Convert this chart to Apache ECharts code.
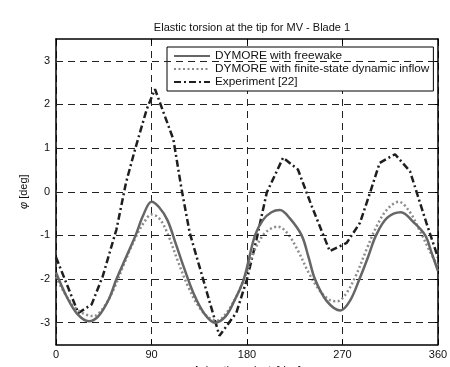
<!DOCTYPE html>
<html>
<head>
<meta charset="utf-8">
<script src="https://cdn.jsdelivr.net/npm/echarts@6/dist/echarts.min.js"></script>
<style>html,body{margin:0;padding:0;background:#fff}#c{width:450px;height:367px}</style>
</head>
<body>
<div id="c"></div>
<script>
const titleText = 'Elastic torsion at the tip for MV - Blade 1';
const xTicks = [0, 90, 180, 270, 360];
const yTicks = [-3, -2, -1, 0, 1, 2, 3];
const seriesNames = ['DYMORE with freewake', 'DYMORE with finite-state dynamic inflow', 'Experiment [22]'];

const freewakeAz = [0,10,20,31,40,50,57,66,75,82,90,97,105,113,120,130,140,150,160,168,177,187.5,195,203,211,220,231.5,238,244,255,268,277,286,294,301.6,312,325,337,348,354,360];
const freewakeVal = [-1.85,-2.4,-2.8,-2.97,-2.85,-2.45,-2.0,-1.5,-1.0,-0.55,-0.23,-0.35,-0.65,-1.2,-1.7,-2.35,-2.8,-3.0,-2.85,-2.5,-2.0,-1.0,-0.65,-0.47,-0.42,-0.6,-1.0,-1.5,-2.0,-2.5,-2.72,-2.5,-2.0,-1.5,-1.0,-0.6,-0.47,-0.7,-1.0,-1.4,-1.82];

const finiteAz = [0,10,20,30,35,45,55,65,75,83,90,97,105,115,125,135,145,152,160,170,178,187,195,202,209,218,228,238,248,258,265,273,283,293,303,313,323,333,343,352,360];
const finiteVal = [-1.95,-2.4,-2.7,-2.83,-2.85,-2.65,-2.2,-1.6,-1.05,-0.7,-0.52,-0.6,-0.95,-1.6,-2.2,-2.65,-2.9,-2.95,-2.8,-2.4,-1.95,-1.35,-1.0,-0.85,-0.8,-0.95,-1.35,-1.85,-2.25,-2.48,-2.51,-2.35,-1.9,-1.3,-0.75,-0.38,-0.23,-0.45,-0.9,-1.35,-1.72];

const expAz = [0,21,33.6,44,57,66,74.5,85.5,93.3,110.6,118.4,126,154,170,180,189,198.6,214,228,241,258,274,286.5,296,305,319.5,333.6,340,349,360];
const expVal = [-1.5,-2.78,-2.58,-1.94,-0.86,0.21,0.97,1.89,2.35,1.2,0.05,-0.94,-3.3,-2.77,-2.0,-1.09,-0.02,0.78,0.51,-0.33,-1.36,-1.17,-0.71,-0.02,0.66,0.86,0.47,-0.02,-0.71,-1.51];

function pairs(a, b) { return a.map((x, i) => [x, b[i]]); }

const chart = echarts.init(document.getElementById('c'));
const FONT = 'Liberation Sans';
chart.setOption({
  animation: false,
  backgroundColor: '#fff',
  title: {
    text: titleText, left: 247, top: 17, textAlign: 'center',
    textStyle: { fontFamily: FONT, fontSize: 11, fontWeight: 'normal', color: '#111' }
  },
  grid: { left: 56, right: 12, top: 39, bottom: 22.5, show: false, containLabel: false, outerBoundsMode: 'none' },
  legend: {
    data: seriesNames,
    orient: 'vertical',
    left: 167, top: 47,
    padding: [3, 4, 3, 6],
    itemGap: 1,
    itemWidth: 36, itemHeight: 14,
    backgroundColor: '#fff',
    borderColor: '#000', borderWidth: 1,
    itemStyle: { opacity: 0 },
    textStyle: { fontFamily: FONT, fontSize: 11.8, color: '#111' }
  },
  xAxis: [{
    type: 'value', min: 0, max: 360, interval: 90,
    name: 'Azimuth angle \u03c8 [deg]', nameLocation: 'middle', nameGap: 20.5, nameMoveOverlap: false,
    nameTextStyle: { fontFamily: FONT, fontSize: 11, color: '#111', verticalAlign: 'top' },
    axisLine: { show: true, onZero: false, lineStyle: { color: '#000', width: 1.5 } },
    axisTick: { show: true, inside: true, length: 5, lineStyle: { color: '#000' } },
    axisLabel: { fontFamily: FONT, fontSize: 11, color: '#111', margin: 5 },
    splitLine: { show: true, lineStyle: { color: '#222', type: [7, 5], width: 1 } }
  }, {
    type: 'value', min: 0, max: 360, interval: 90, position: 'top',
    axisLine: { show: true, onZero: false, lineStyle: { color: '#000', width: 1.5 } },
    axisTick: { show: true, inside: true, length: 5, lineStyle: { color: '#000' } },
    axisLabel: { show: false }, splitLine: { show: false }
  }],
  yAxis: [{
    type: 'value', min: -3.5, max: 3.5,
    name: '{i|\u03c6} [deg]', nameLocation: 'middle', nameGap: 18, nameRotate: 90,
    nameTextStyle: { fontFamily: FONT, fontSize: 11, color: '#111',
      rich: { i: { fontFamily: FONT, fontSize: 11, fontStyle: 'italic', color: '#111' } } },
    axisLine: { show: true, onZero: false, lineStyle: { color: '#000', width: 1.5 } },
    axisTick: { show: false },
    axisLabel: { fontFamily: FONT, fontSize: 11, color: '#111', margin: 6,
      customValues: yTicks },
    splitLine: { show: false }
  }, {
    type: 'value', min: -3.5, max: 3.5, position: 'right',
    axisLine: { show: true, onZero: false, lineStyle: { color: '#000', width: 1.5 } },
    axisTick: { show: true, inside: true, length: 5, customValues: yTicks, lineStyle: { color: '#000' } },
    axisLabel: { show: false }, splitLine: { show: false }
  }],
  series: [
    { type: 'line', yAxisIndex: 0, xAxisIndex: 0, name: '__grid', data: [], silent: true,
      markLine: { silent: true, symbol: 'none', label: { show: false },
        lineStyle: { color: '#222', type: [7, 5], width: 1 },
        data: yTicks.map(v => ({ yAxis: v })) } },
    { type: 'line', name: seriesNames[2], data: pairs(expAz, expVal), showSymbol: false, symbol: 'none',
      lineStyle: { color: '#1e1e1e', width: 2.5, type: [7, 3, 2, 3] }, itemStyle: { color: '#1e1e1e' }, z: 3 },
    { type: 'line', name: seriesNames[1], data: pairs(finiteAz, finiteVal), showSymbol: false, symbol: 'none', smooth: 0.35,
      lineStyle: { color: '#8c8c8c', width: 2.5, type: [2, 2.5] }, itemStyle: { color: '#8c8c8c' }, z: 4 },
    { type: 'line', name: seriesNames[0], data: pairs(freewakeAz, freewakeVal), showSymbol: false, symbol: 'none', smooth: 0.35,
      lineStyle: { color: '#666', width: 2.5, type: 'solid' }, itemStyle: { color: '#666' }, z: 5 }
  ]
});
</script>
</body>
</html>
